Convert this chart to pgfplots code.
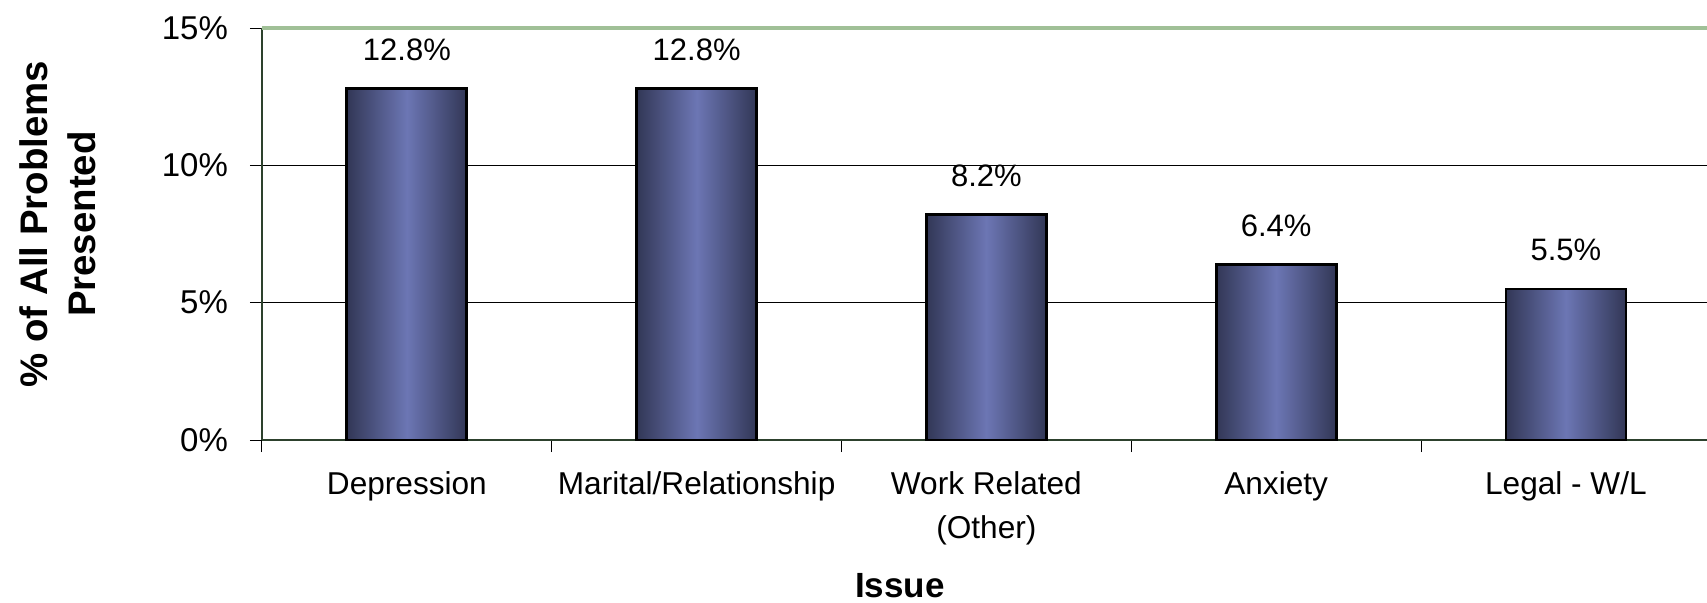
\documentclass[border=0pt]{standalone}
\usepackage{pgfplots}
\pgfplotsset{compat=1.18}
\usepackage{fontspec}
\setmainfont{Liberation Sans}
\definecolor{bardark}{RGB}{50,55,86}
\definecolor{barlight}{RGB}{108,118,180}
\definecolor{topgreen}{RGB}{160,192,151}
\definecolor{axisgreen}{RGB}{45,65,45}
\begin{document}
\begin{tikzpicture}
\useasboundingbox (0,0) rectangle (853.5pt,301pt);
\begin{axis}[
  at={(131pt,81pt)}, anchor=south west,
  scale only axis, width=722.5pt, height=206pt,
  xmin=-0.5, xmax=4.487, ymin=0, ymax=15,
  clip=false,
  axis lines*=left,
  axis line style={axisgreen, line width=0.8pt},
  ybar, bar width=60pt, bar shift=0pt,
  xtick={0,1,2,3,4},
  xticklabels={Depression, Marital/Relationship, {Work Related\\(Other)}, Anxiety, Legal - W/L},
  major x tick style={draw=none},
  minor xtick={-0.5,0.5,1.5,2.5,3.5},
  minor x tick style={black, line width=0.5pt},
  minor tick length=6pt,
  ytick={0,5,10,15}, yticklabels={0\%,5\%,10\%,15\%},
  major tick length=6pt,
  y tick style={black, line width=0.5pt},
  tick align=outside,
  ymajorgrids, major grid style={black, line width=0.5pt},
  xticklabel style={font=\fontsize{15.8}{22}\selectfont, align=center, anchor=north, yshift=-6.5pt},
  yticklabel style={font=\fontsize{16.5}{18}\selectfont, anchor=east, xshift=-7.5pt},
  xlabel={Issue},
  xlabel style={font=\bfseries\fontsize{17.5}{19}\selectfont, at={([yshift=-78.5pt]axis description cs:0.4415,0)}, anchor=base},
  ylabel={\% of All Problems\\Presented},
  ylabel style={font=\bfseries\fontsize{19.2}{24}\selectfont, align=center, at={([xshift=-102pt]axis description cs:0,0.524)}, anchor=center},
  nodes near coords={\pgfmathprintnumber[fixed,fixed zerofill,precision=1,assume math mode=true]{\pgfplotspointmeta}\%},
  nodes near coords style={font=\fontsize{15.5}{18}\selectfont, anchor=base, yshift=14pt, black},
  barstyle/.style={draw=black, line width=1.4pt, left color=bardark, right color=bardark, middle color=barlight},
]
\addplot[barstyle] coordinates {(0,12.8)};
\addplot[barstyle] coordinates {(1,12.8)};
\addplot[barstyle] coordinates {(2,8.2)};
\addplot[barstyle] coordinates {(3,6.4)};
\addplot[barstyle] coordinates {(4,5.5)};
\draw[topgreen, line width=2pt] (rel axis cs:0,1) -- (rel axis cs:1,1);
\end{axis}
\end{tikzpicture}
\end{document}
